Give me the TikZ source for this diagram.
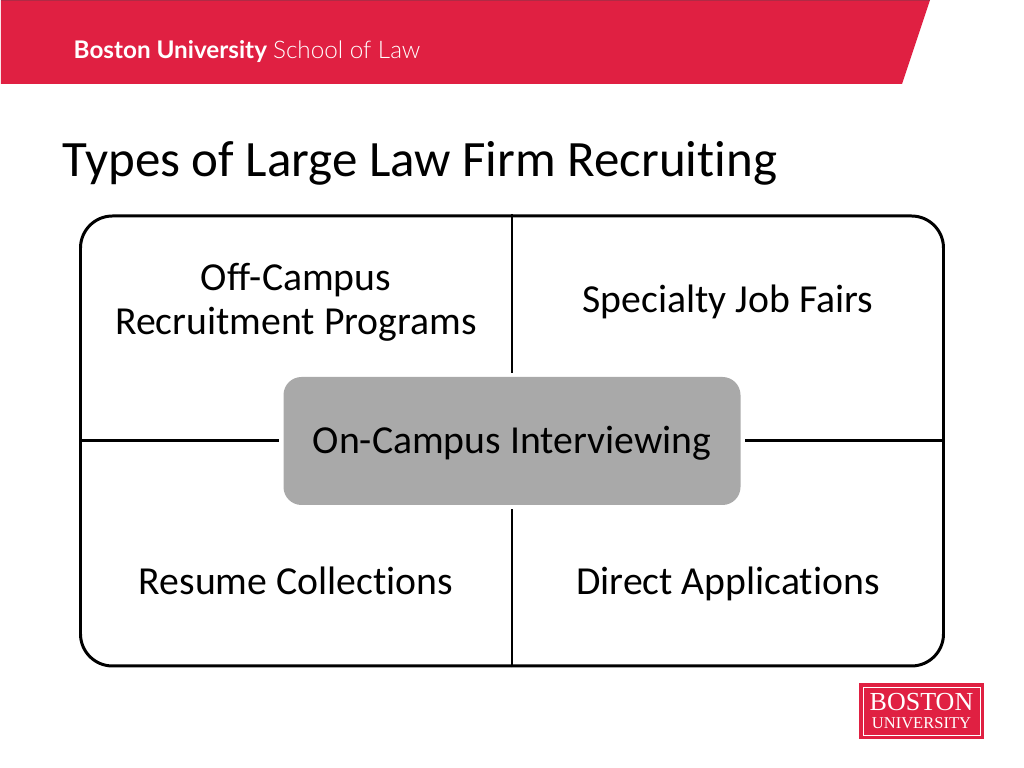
\documentclass[tikz,border=0pt]{standalone}
\usepackage{fontspec}
\setmainfont[Ligatures=NoCommon]{Carlito}
\newfontfamily\brandfont{Lato}
\newfontfamily\brandlight{Lato Light}
\newfontfamily\sealfont{Liberation Serif}
\usetikzlibrary{positioning}
\definecolor{bured}{HTML}{E02042}
\definecolor{budark}{HTML}{B02A45}
\definecolor{hubgray}{HTML}{A9A9A9}
\tikzset{
    divider/.style={line width=0.85pt},
    cell/.style={align=center, font=\fontsize{11.3}{12.5}\selectfont},
}

\begin{document}
\begin{tikzpicture}
    \useasboundingbox (0, 0) rectangle (10.24, 7.68);

    % banner
    \fill[bured] (0.01, 7.68) -- (9.30, 7.68) -- (9.02, 6.84) -- (0.01, 6.84) -- cycle;
    \fill[budark] (0.01, 7.68) rectangle (9.30, 7.665);
    \node[anchor=west, text=white, inner sep=0, font=\fontsize{6.9}{8}\brandfont] (brand) at (0.73, 7.16) {\textbf{Boston University} {\brandlight School of Law}};

    \node[anchor=west, inner sep=0, font=\fontsize{14.5}{16}\selectfont] (title) at (0.62, 6.05) {Types of Large Law Firm Recruiting};

    % frame and middle
    \node[draw, divider, rounded corners=0.32cm, minimum width=8.63cm, minimum height=4.50cm, inner sep=0] (frame) at (5.12, 3.27) {};
    \node[fill=hubgray, rounded corners=0.18cm, minimum width=4.57cm, minimum height=1.28cm, cell, text height=0.34cm, text depth=0.09cm] (hub) at (5.12, 3.27) {On-Campus Interviewing};

    \draw[divider, shorten >=0.035cm] (frame.north) -- (hub.north);
    \draw[divider, shorten >=0.035cm] (frame.south) -- (hub.south);
    \draw[divider, shorten >=0.035cm] (frame.west) -- (hub.west);
    \draw[divider, shorten >=0.035cm] (frame.east) -- (hub.east);

    \node[cell] (offcampus) at (2.96, 4.66) {Off-Campus\\Recruitment Programs};
    \node[cell] (jobfairs) at (7.28, 4.66) {Specialty Job Fairs};
    \node[cell] (resume) at (2.96, 1.87) {Resume Collections};
    \node[cell] (direct) at (7.28, 1.84) {Direct Applications};

    % seal
    \node[fill=bured, minimum width=1.25cm, minimum height=0.56cm, inner sep=0] (seal) at (9.215, 0.565) {};
    \node[draw=white, line width=0.2pt, minimum width=1.17cm, minimum height=0.48cm, inner sep=0] (sealrim) at (seal) {};
    \node[text=white, inner sep=0, font=\fontsize{7.4}{8}\sealfont] (sealtop) at (9.215, 0.66) {BOSTON};
    \node[text=white, inner sep=0, font=\fontsize{4.7}{5}\sealfont] (sealbottom) at (9.215, 0.45) {UNIVERSITY};
\end{tikzpicture}
\end{document}
